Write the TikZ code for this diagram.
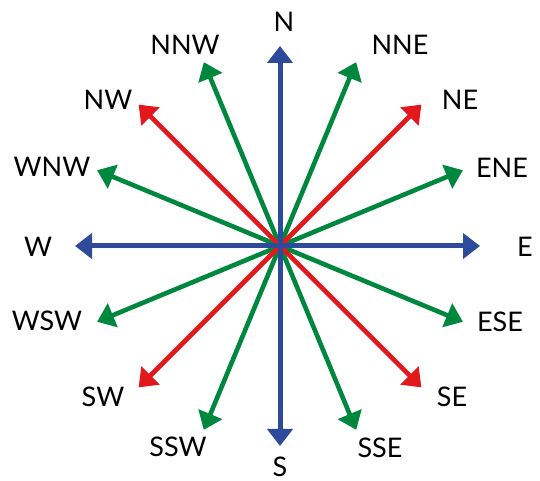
\documentclass[tikz,border=0pt]{standalone}
\usepackage{fontspec}
\setmainfont{Lato}
\usetikzlibrary{arrows.meta,calc}
\definecolor{cblue}{RGB}{46,74,155}
\definecolor{cred}{RGB}{227,24,28}
\definecolor{cgreen}{RGB}{0,135,62}
\tikzset{
  ray/.style={line width=4.6pt,-{Triangle[width=25pt,length=17pt]}},
  lbl/.style={font=\fontsize{27}{27}\selectfont,inner sep=0pt,anchor=center}
}
\begin{document}
\begin{tikzpicture}[x=1pt,y=1pt]
\useasboundingbox (0,0) rectangle (540,481);
\coordinate (c) at (280,235);
% tips
\foreach \n/\a/\r in {N/90/200,S/270/200,E/0/200,W/180/205,
  NE/45/200,NW/135/200,SE/315/200,SW/225/200,
  NNE/67.5/199,NNW/112.5/199,SSE/292.5/199,SSW/247.5/199,
  ENE/22.5/198,WNW/157.5/198,ESE/337.5/198,WSW/202.5/198}
  {\coordinate (t\n) at ($(c)+(\a:\r)$);}
% green
\foreach \n in {NNE,NNW,SSE,SSW,ENE,WNW,ESE,WSW}
  {\draw[ray,cgreen] (c) -- (t\n);}
% red
\foreach \n in {NE,NW,SE,SW}
  {\draw[ray,cred] (c) -- (t\n);}
% blue
\foreach \n in {N,S,E,W}
  {\draw[ray,cblue,line width=5pt] (c) -- (t\n);}
% labels
\node[lbl] (lN) at (284,459) {N};
\node[lbl] (lS) at (280,14) {S};
\node[lbl] (lE) at (525,234) {E};
\node[lbl] (lW) at (38,234) {W};
\node[lbl] (lNE) at (460,381) {NE};
\node[lbl] (lNW) at (108,381) {NW};
\node[lbl] (lSE) at (452,84) {SE};
\node[lbl] (lSW) at (103,84) {SW};
\node[lbl] (lNNE) at (400,436) {NNE};
\node[lbl] (lNNW) at (185,436) {NNW};
\node[lbl] (lSSE) at (380,33) {SSE};
\node[lbl] (lSSW) at (178,34) {SSW};
\node[lbl] (lENE) at (502,313) {ENE};
\node[lbl] (lWNW) at (52,314) {WNW};
\node[lbl] (lESE) at (500,159) {ESE};
\node[lbl] (lWSW) at (47,160) {WSW};
\end{tikzpicture}
\end{document}
